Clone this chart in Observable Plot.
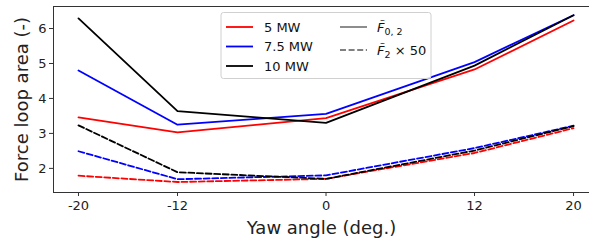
<!DOCTYPE html>
<html>
<head>
<meta charset="utf-8">
<script src="https://cdn.jsdelivr.net/npm/d3@7"></script>
<script src="https://cdn.jsdelivr.net/npm/@observablehq/plot@0.6"></script>
<style>
  html, body { margin: 0; padding: 0; background: #fff; }
  svg { font-family: "DejaVu Sans", sans-serif; }
</style>
</head>
<body>
<div id="chart"></div>
<script>
const yaw = [-20, -12, 0, 12, 20];
const xTicks = [-20, -12, 0, 12, 20];
const yTicks = [2, 3, 4, 5, 6];
const powers = ["5 MW", "7.5 MW", "10 MW"];
const colors = ["#ff0000", "#0000ff", "#000000"];
// F~_{0,2}
const f02_5  = [3.46, 3.03, 3.44, 4.83, 6.23];
const f02_75 = [4.80, 3.25, 3.56, 5.04, 6.38];
const f02_10 = [6.29, 3.64, 3.30, 4.94, 6.38];
// F~_2 x 50
const f2_5  = [1.79, 1.61, 1.70, 2.44, 3.15];
const f2_75 = [2.49, 1.69, 1.80, 2.58, 3.22];
const f2_10 = [3.23, 1.89, 1.70, 2.51, 3.21];

const solid = [f02_5, f02_75, f02_10];
const dashed = [f2_5, f2_75, f2_10];
const rows = [];
powers.forEach((p, i) => {
  yaw.forEach((x, j) => {
    rows.push({x, y: solid[i][j], power: p, kind: "F02"});
    rows.push({x, y: dashed[i][j], power: p, kind: "F2"});
  });
});

const chart = Plot.plot({
  width: 589,
  height: 243,
  marginLeft: 53,
  marginRight: 0,
  marginTop: 6,
  marginBottom: 51,
  style: {fontFamily: "DejaVu Sans, sans-serif", background: "#fff"},
  x: {domain: [-22.02, 21.29]},
  y: {domain: [1.31, 6.63]},
  color: {domain: powers, range: colors},
  marks: [
    Plot.line(rows.filter(d => d.kind === "F02"), {x: "x", y: "y", z: "power", stroke: "power", strokeWidth: 1.8}),
    Plot.line(rows.filter(d => d.kind === "F2"), {x: "x", y: "y", z: "power", stroke: "power", strokeWidth: 1.8, strokeDasharray: "6,2.6"}),
    Plot.frame({stroke: "#333", strokeWidth: 1}),
    Plot.axisX({ticks: xTicks, tickFormat: d => String(d), tickSize: 4, tickPadding: 4, fontSize: 13, label: null, stroke: "#333", color: "#222"}),
    Plot.axisY({ticks: yTicks, tickFormat: d => String(d), tickSize: 4, tickPadding: 3, fontSize: 13, label: null, stroke: "#333", color: "#222"}),
    Plot.text(["Yaw angle (deg.)"], {frameAnchor: "bottom", dy: 41, fontSize: 18, fill: "#222", text: d => d}),
    Plot.text(["Force loop area (-)"], {frameAnchor: "left", dx: -31, rotate: -90, textAnchor: "middle", fontSize: 18, fill: "#222", text: d => d})
  ]
});
document.getElementById("chart").appendChild(chart);

// Legend
const svg = d3.select(chart);
const lg = svg.append("g").attr("font-family", "DejaVu Sans, sans-serif").attr("font-size", 13)
  .attr("fill", "#111").attr("text-anchor", "start");
lg.append("rect").attr("x", 221).attr("y", 12.5).attr("width", 210).attr("height", 66).attr("rx", 2.5)
  .attr("fill", "#fff").attr("fill-opacity", 0.85).attr("stroke", "#d0d0d0");
const rowY = [27, 46.5, 66];
powers.forEach((p, i) => {
  lg.append("line").attr("x1", 226).attr("x2", 253).attr("y1", rowY[i]).attr("y2", rowY[i])
    .attr("stroke", colors[i]).attr("stroke-width", 1.8);
  lg.append("text").attr("x", 264).attr("y", rowY[i]).attr("dy", "0.36em").text(p);
});
lg.append("line").attr("x1", 340).attr("x2", 367).attr("y1", 27).attr("y2", 27)
  .attr("stroke", "#808080").attr("stroke-width", 1.8);
lg.append("line").attr("x1", 340).attr("x2", 367).attr("y1", 50).attr("y2", 50)
  .attr("stroke", "#808080").attr("stroke-width", 1.8).attr("stroke-dasharray", "6,2.6");
const t1 = lg.append("text").attr("x", 377).attr("y", 27).attr("dy", "0.36em");
t1.append("tspan").attr("font-style", "italic").text("F\u0303");
t1.append("tspan").attr("font-size", 9.5).attr("dy", 3.5).text("0, 2");
const t2 = lg.append("text").attr("x", 377).attr("y", 50).attr("dy", "0.36em");
t2.append("tspan").attr("font-style", "italic").text("F\u0303");
t2.append("tspan").attr("font-size", 9.5).attr("dy", 3.5).text("2");
t2.append("tspan").attr("dy", -3.5).text(" \u00d7 50");
</script>
</body>
</html>
